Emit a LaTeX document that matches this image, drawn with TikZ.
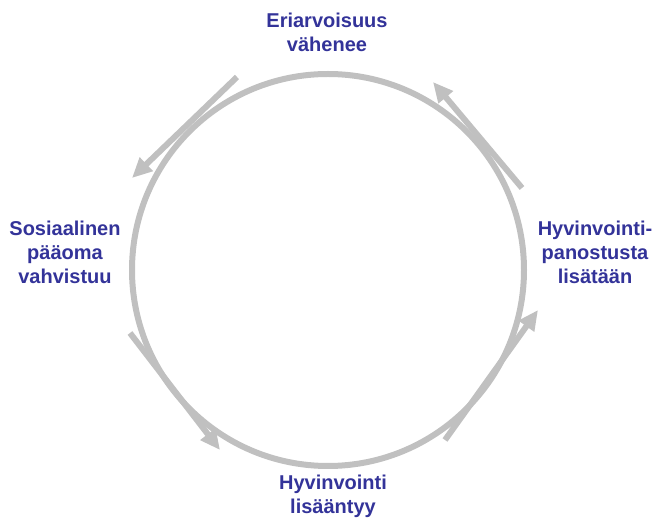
\documentclass[tikz,border=0pt]{standalone}
\usepackage{fontspec}
\setmainfont{Liberation Sans}
\usetikzlibrary{arrows.meta}
\definecolor{cyc}{RGB}{192,192,192}
\definecolor{lbl}{RGB}{51,51,153}
\tikzset{
  lab/.style={text=lbl,font=\fontsize{20}{24}\selectfont\bfseries,align=center,inner sep=0pt},
  ring/.style={draw=cyc,line width=6pt},
  flow/.style={draw=cyc,line width=6pt,-{Triangle[width=18pt,length=20pt]}}
}
\begin{document}
\begin{tikzpicture}[x=1pt,y=-1pt]
\useasboundingbox (0,0) rectangle (654,518);
\node[ring,circle,minimum size=392pt,inner sep=0pt] (c) at (328,270) {};
\coordinate (a1s) at (237,77); \coordinate (a1e) at (132,178);
\coordinate (a2s) at (522,188); \coordinate (a2e) at (433,82);
\coordinate (a3s) at (130,333); \coordinate (a3e) at (220,450);
\coordinate (a4s) at (445,440); \coordinate (a4e) at (538,310);
\draw[flow] (a1s) -- (a1e);
\draw[flow] (a2s) -- (a2e);
\draw[flow] (a3s) -- (a3e);
\draw[flow] (a4s) -- (a4e);
\node[lab] (t) at (327,32) {Eriarvoisuus\\vähenee};
\node[lab] (l) at (65,252) {Sosiaalinen\\pääoma\\vahvistuu};
\node[lab] (r) at (595,252) {Hyvinvointi-\\panostusta\\lisätään};
\node[lab] (b) at (333,496) {Hyvinvointi\\lisääntyy};
\end{tikzpicture}
\end{document}
